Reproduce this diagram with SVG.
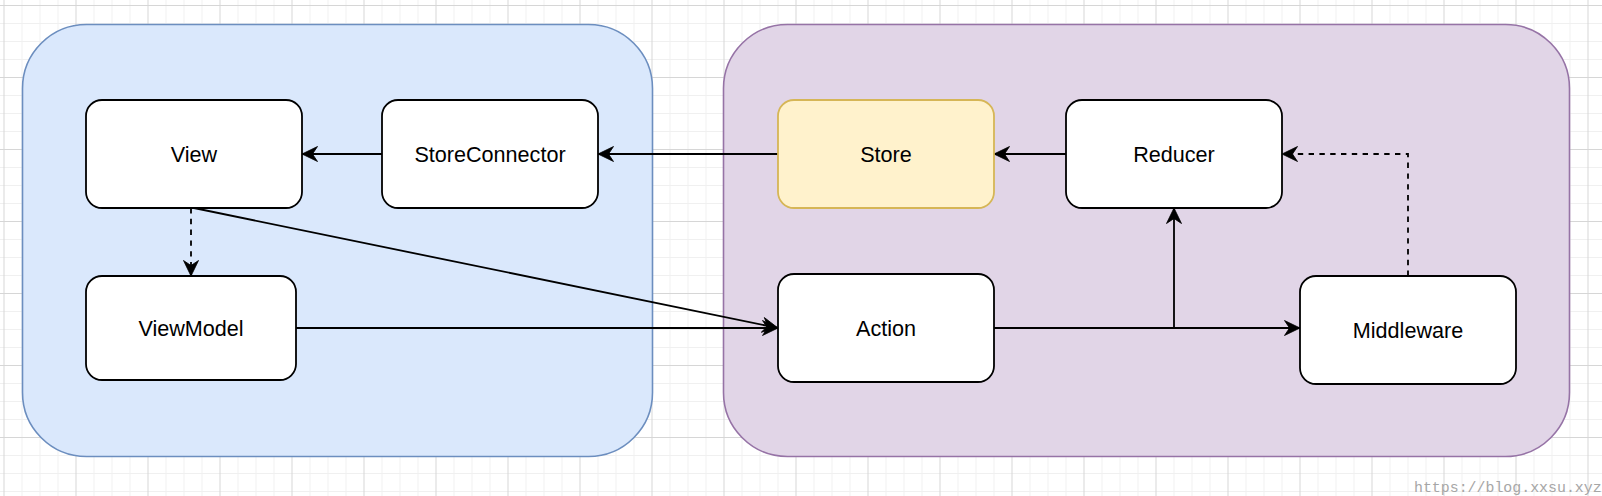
<svg xmlns="http://www.w3.org/2000/svg" width="1602" height="496" viewBox="0 0 1602 496">
<style>
.node{fill:#ffffff;stroke:#000000;stroke-width:1.8}
.store{fill:#fff2cc;stroke:#d6b656;stroke-width:1.8}
.lbl{font-family:"Liberation Sans",Arial,Helvetica,sans-serif;font-size:21.6px;fill:#000000;text-anchor:middle}
.edge{fill:none;stroke:#000000;stroke-width:1.8;marker-end:url(#arrow)}
.dash{stroke-dasharray:5.4 5.4}
.wm{font-family:"Liberation Mono","DejaVu Sans Mono",monospace;font-size:14.9px;fill:#a6a6a6}
</style>
<defs>
<pattern id="grid" x="3.5" y="5" width="72" height="72" patternUnits="userSpaceOnUse">
<path d="M18.5,0V72M36.5,0V72M54.5,0V72M0,18.5H72M0,36.5H72M0,54.5H72" fill="none" stroke="#f0f0f0" stroke-width="1"/>
<path d="M0.5,0V72M0,0.5H72" fill="none" stroke="#d6d6d6" stroke-width="1"/>
</pattern>
<marker id="arrow" viewBox="-18 -10 20 20" refX="0" refY="0" markerWidth="20" markerHeight="20" markerUnits="userSpaceOnUse" orient="auto">
<path d="M0,0L-15.5,-7.5L-10.5,0L-15.5,7.5Z" fill="#000000" stroke="#000000" stroke-width="0.8"/>
</marker>
</defs>
<rect x="0" y="0" width="1602" height="496" fill="#ffffff"/>
<rect x="0" y="0" width="1602" height="496" fill="url(#grid)"/>
<g id="group-view-layer">
<rect x="22.5" y="24.5" width="630" height="432" rx="64" ry="64" fill="#dae8fc" stroke="#6c8ebf" stroke-width="1.6"/>
</g>
<g id="group-store-layer">
<rect x="723.5" y="24.5" width="846" height="432" rx="64" ry="64" fill="#e1d5e7" stroke="#9673a6" stroke-width="1.6"/>
</g>
<g id="connectors">
<path class="edge" d="M382,154H302"/>
<path class="edge" d="M778,154H598"/>
<path class="edge" d="M1066,154H994"/>
<path class="edge dash" d="M1408,276V154H1282"/>
<path class="edge" d="M994,328H1300"/>
<path class="edge" d="M994,328H1174V208"/>
<path class="edge" d="M194,208L778,328"/>
<path class="edge" d="M296,328H778"/>
<path class="edge dash" d="M191,208V276"/>
</g>
<g id="node-view">
<rect class="node" x="86" y="100" width="216" height="108" rx="16" ry="16"/>
<text class="lbl" x="194" y="161.7">View</text>
</g>
<g id="node-storeconnector">
<rect class="node" x="382" y="100" width="216" height="108" rx="16" ry="16"/>
<text class="lbl" x="490" y="161.7">StoreConnector</text>
</g>
<g id="node-store">
<rect class="store" x="778" y="100" width="216" height="108" rx="16" ry="16"/>
<text class="lbl" x="886" y="161.7">Store</text>
</g>
<g id="node-reducer">
<rect class="node" x="1066" y="100" width="216" height="108" rx="16" ry="16"/>
<text class="lbl" x="1174" y="161.7">Reducer</text>
</g>
<g id="node-viewmodel">
<rect class="node" x="86" y="276" width="210" height="104" rx="16" ry="16"/>
<text class="lbl" x="191" y="335.7">ViewModel</text>
</g>
<g id="node-action">
<rect class="node" x="778" y="274" width="216" height="108" rx="16" ry="16"/>
<text class="lbl" x="886" y="335.7">Action</text>
</g>
<g id="node-middleware">
<rect class="node" x="1300" y="276" width="216" height="108" rx="16" ry="16"/>
<text class="lbl" x="1408" y="337.7">Middleware</text>
</g>
<text class="wm" x="1414" y="491.5">https://blog.xxsu.xyz</text>
</svg>
